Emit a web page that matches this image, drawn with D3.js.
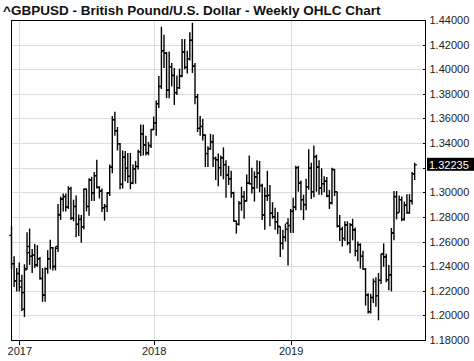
<!DOCTYPE html>
<html>
<head>
<meta charset="utf-8">
<script src="https://cdn.jsdelivr.net/npm/d3@7"></script>
<style>
  html, body { margin: 0; padding: 0; background: #fff; }
  svg { display: block; font-family: "Liberation Sans", Arial, sans-serif; }
  .grid line { stroke: #dcdcdc; stroke-width: 1; shape-rendering: crispEdges; }
  .axis path, .axis line { stroke: #000; shape-rendering: crispEdges; }
  .axis text { fill: #222; font-size: 11px; }
</style>
</head>
<body>
<div id="chart"></div>
<script>
// weekly bars, Monday dates from FIRST_WEEK to LAST_WEEK
const FIRST_WEEK = '2016-12-12';
const LAST_WEEK = '2019-12-09';
const title = '^GBPUSD - British Pound/U.S. Dollar - Weekly OHLC Chart';
const lastPrice = 1.32235;
const yTicks = [1.18, 1.2, 1.22, 1.24, 1.26, 1.28, 1.3, 1.32, 1.34, 1.36, 1.38, 1.4, 1.42, 1.44];
const yearLabels = ['2017', '2018', '2019'];

const opens = [
  1.2650, 1.2420, 1.2280, 1.2340, 1.2230, 1.2050, 1.2380, 1.2510, 1.2480, 1.2490,
  1.2410, 1.2460, 1.2300, 1.2165, 1.2380, 1.2460, 1.2550, 1.2400, 1.2560, 1.2820,
  1.2945, 1.2965, 1.2880, 1.3030, 1.2790, 1.2885, 1.2740, 1.2780, 1.2720, 1.3025,
  1.2885, 1.3100, 1.2995, 1.3135, 1.3040, 1.3010, 1.2875, 1.2885, 1.2995, 1.3205,
  1.3590, 1.3500, 1.3395, 1.3065, 1.3285, 1.3195, 1.3130, 1.3075, 1.3190, 1.3210,
  1.3330, 1.3475, 1.3385, 1.3320, 1.3380, 1.3510, 1.3565, 1.3720, 1.3860, 1.4150,
  1.4130, 1.3830, 1.4020, 1.3950, 1.3810, 1.3850, 1.3945, 1.4140, 1.4015, 1.4085,
  1.4235, 1.4025, 1.3775, 1.3520, 1.3535, 1.3465, 1.3315, 1.3355, 1.3410, 1.3275,
  1.3265, 1.3200, 1.3280, 1.3225, 1.3140, 1.3110, 1.2995, 1.2765, 1.2740, 1.2910,
  1.2965, 1.2930, 1.3075, 1.3070, 1.3035, 1.3125, 1.3155, 1.3055, 1.2815, 1.2970,
  1.2975, 1.2830, 1.2800, 1.2760, 1.2720, 1.2585, 1.2635, 1.2750, 1.2730, 1.2845,
  1.2880, 1.3200, 1.3075, 1.2940, 1.2900, 1.3045, 1.3195, 1.3005, 1.3290, 1.3205,
  1.3035, 1.3070, 1.3090, 1.2970, 1.2915, 1.3185, 1.3005, 1.2725, 1.2700, 1.2625,
  1.2735, 1.2590, 1.2735, 1.2695, 1.2525, 1.2575, 1.2480, 1.2375, 1.2165, 1.2030,
  1.2145, 1.2275, 1.2160, 1.2285, 1.2500, 1.2475, 1.2290, 1.2330, 1.2670, 1.2965,
  1.2835, 1.2940, 1.2780, 1.2895, 1.2835, 1.2930, 1.3150
];
const highs = [
  1.2725, 1.2480, 1.2385, 1.2430, 1.2330, 1.2415, 1.2675, 1.2705, 1.2540, 1.2580,
  1.2570, 1.2475, 1.2385, 1.2390, 1.2530, 1.2615, 1.2555, 1.2560, 1.2905, 1.2965,
  1.2990, 1.2990, 1.3050, 1.3045, 1.2940, 1.2975, 1.2820, 1.2815, 1.3030, 1.3030,
  1.3115, 1.3125, 1.3165, 1.3265, 1.3050, 1.3030, 1.2905, 1.3000, 1.3225, 1.3620,
  1.3655, 1.3530, 1.3400, 1.3340, 1.3335, 1.3320, 1.3320, 1.3225, 1.3255, 1.3345,
  1.3550, 1.3550, 1.3460, 1.3410, 1.3515, 1.3615, 1.3745, 1.3945, 1.4345, 1.4280,
  1.4140, 1.4145, 1.4050, 1.4010, 1.3950, 1.4005, 1.4245, 1.4245, 1.4150, 1.4300,
  1.4377, 1.4050, 1.3800, 1.3620, 1.3595, 1.3470, 1.3375, 1.3475, 1.3470, 1.3290,
  1.3315, 1.3300, 1.3365, 1.3260, 1.3215, 1.3175, 1.3005, 1.2770, 1.2930, 1.3045,
  1.3010, 1.3145, 1.3300, 1.3200, 1.3170, 1.3260, 1.3255, 1.3070, 1.3040, 1.3175,
  1.3060, 1.2920, 1.2875, 1.2840, 1.2725, 1.2695, 1.2745, 1.2790, 1.2865, 1.2955,
  1.3215, 1.3215, 1.3095, 1.2980, 1.3110, 1.3350, 1.3240, 1.3380, 1.3305, 1.3260,
  1.3195, 1.3130, 1.3125, 1.3020, 1.3200, 1.3190, 1.3005, 1.2815, 1.2720, 1.2765,
  1.2765, 1.2750, 1.2785, 1.2715, 1.2600, 1.2585, 1.2525, 1.2385, 1.2180, 1.2175,
  1.2300, 1.2310, 1.2345, 1.2500, 1.2585, 1.2500, 1.2410, 1.2710, 1.3010, 1.3010,
  1.2975, 1.2965, 1.2925, 1.2985, 1.2985, 1.3165, 1.3240
];
const lows = [
  1.2375, 1.2230, 1.2195, 1.2195, 1.2035, 1.1986, 1.2370, 1.2410, 1.2345, 1.2385,
  1.2395, 1.2290, 1.2110, 1.2110, 1.2340, 1.2375, 1.2365, 1.2365, 1.2515, 1.2775,
  1.2845, 1.2845, 1.2865, 1.2775, 1.2765, 1.2635, 1.2645, 1.2590, 1.2700, 1.2845,
  1.2810, 1.2930, 1.2930, 1.3030, 1.2950, 1.2840, 1.2770, 1.2840, 1.2970, 1.3155,
  1.3460, 1.3340, 1.3025, 1.3030, 1.3090, 1.3075, 1.3025, 1.3065, 1.3070, 1.3185,
  1.3295, 1.3300, 1.3300, 1.3300, 1.3360, 1.3505, 1.3460, 1.3685, 1.3840, 1.4010,
  1.3765, 1.3765, 1.3860, 1.3710, 1.3790, 1.3840, 1.3935, 1.4000, 1.3965, 1.4070,
  1.3970, 1.3715, 1.3490, 1.3460, 1.3420, 1.3205, 1.3205, 1.3345, 1.3205, 1.3100,
  1.3050, 1.3130, 1.3105, 1.2955, 1.3060, 1.2955, 1.2760, 1.2665, 1.2730, 1.2850,
  1.2785, 1.2925, 1.3065, 1.2990, 1.2925, 1.3030, 1.3000, 1.2775, 1.2695, 1.2930,
  1.2725, 1.2785, 1.2695, 1.2660, 1.2475, 1.2535, 1.2600, 1.2405, 1.2670, 1.2670,
  1.2855, 1.3005, 1.2855, 1.2775, 1.2855, 1.3020, 1.2945, 1.2960, 1.3005, 1.2980,
  1.2980, 1.3000, 1.2960, 1.2865, 1.2900, 1.2970, 1.2715, 1.2605, 1.2560, 1.2605,
  1.2570, 1.2505, 1.2610, 1.2480, 1.2440, 1.2380, 1.2370, 1.2080, 1.2015, 1.2015,
  1.2100, 1.2070, 1.1960, 1.2255, 1.2395, 1.2270, 1.2205, 1.2195, 1.2610, 1.2780,
  1.2835, 1.2765, 1.2770, 1.2825, 1.2825, 1.2900, 1.3100
];
const closes = [
  1.2420, 1.2280, 1.2340, 1.2280, 1.2185, 1.2370, 1.2560, 1.2480, 1.2490, 1.2410,
  1.2460, 1.2300, 1.2165, 1.2380, 1.2460, 1.2550, 1.2395, 1.2545, 1.2815, 1.2945,
  1.2965, 1.2880, 1.3030, 1.2790, 1.2885, 1.2740, 1.2780, 1.2720, 1.3025, 1.2885,
  1.3100, 1.2995, 1.3135, 1.3040, 1.3010, 1.2875, 1.2885, 1.2995, 1.3205, 1.3590,
  1.3500, 1.3395, 1.3065, 1.3285, 1.3195, 1.3130, 1.3075, 1.3190, 1.3210, 1.3330,
  1.3475, 1.3385, 1.3320, 1.3380, 1.3510, 1.3565, 1.3720, 1.3860, 1.4150, 1.4130,
  1.3830, 1.4020, 1.3950, 1.3810, 1.3850, 1.3945, 1.4140, 1.4015, 1.4085, 1.4235,
  1.4025, 1.3775, 1.3520, 1.3535, 1.3465, 1.3315, 1.3355, 1.3410, 1.3275, 1.3265,
  1.3200, 1.3280, 1.3225, 1.3140, 1.3110, 1.2995, 1.2765, 1.2740, 1.2910, 1.2965,
  1.2930, 1.3075, 1.3070, 1.3035, 1.3125, 1.3155, 1.3055, 1.2815, 1.2970, 1.2975,
  1.2830, 1.2800, 1.2760, 1.2725, 1.2585, 1.2635, 1.2700, 1.2730, 1.2845, 1.2880,
  1.3200, 1.3075, 1.2940, 1.2900, 1.3045, 1.3195, 1.3005, 1.3290, 1.3205, 1.3035,
  1.3070, 1.3090, 1.2970, 1.2915, 1.3185, 1.3005, 1.2725, 1.2700, 1.2625, 1.2735,
  1.2590, 1.2735, 1.2695, 1.2525, 1.2575, 1.2480, 1.2375, 1.2165, 1.2030, 1.2145,
  1.2275, 1.2160, 1.2285, 1.2500, 1.2475, 1.2290, 1.2330, 1.2670, 1.2965, 1.2835,
  1.2940, 1.2780, 1.2895, 1.2835, 1.2930, 1.3150, 1.32235
];

const W = 474, H = 361;
const plot = { left: 11, right: 425, top: 20, bottom: 340 };

const parse = d3.timeParse('%Y-%m-%d');
const weeks = d3.timeMonday.range(parse(FIRST_WEEK), d3.timeDay.offset(parse(LAST_WEEK), 1));
const bars = weeks.map((d, i) => ({
  date: d, i, o: opens[i], h: highs[i], l: lows[i], c: closes[i],
}));

// bars sit on a week index; the last slot leaves room before the price axis
const x = d3.scaleLinear().domain([-0.2, 160]).range([plot.left, plot.right]);
const y = d3.scaleLinear().domain([1.18, 1.44]).range([plot.bottom, plot.top]);

// first bar of each year carries the year tick
const yearStarts = yearLabels.map((yr) => bars.find((b) => b.date.getFullYear() === +yr).i);

const svg = d3.select('#chart').append('svg').attr('width', W).attr('height', H);

svg.append('text')
  .attr('x', 3).attr('y', 14.5)
  .attr('font-size', 13.5).attr('font-weight', 'bold').attr('fill', '#111')
  .text(title);

const grid = svg.append('g').attr('class', 'grid');
grid.selectAll('line.h').data(yTicks).join('line').attr('class', 'h')
  .attr('x1', plot.left).attr('x2', plot.right)
  .attr('y1', (d) => Math.round(y(d)) + 0.5).attr('y2', (d) => Math.round(y(d)) + 0.5);
grid.selectAll('line.v').data(yearStarts).join('line').attr('class', 'v')
  .attr('x1', (d) => Math.round(x(d)) + 0.5).attr('x2', (d) => Math.round(x(d)) + 0.5)
  .attr('y1', plot.top).attr('y2', plot.bottom);

// frame
svg.append('rect')
  .attr('x', plot.left + 0.5).attr('y', plot.top + 0.5)
  .attr('width', plot.right - plot.left).attr('height', plot.bottom - plot.top)
  .attr('fill', 'none').attr('stroke', '#000').attr('shape-rendering', 'crispEdges');

// ohlc bars
const g = svg.append('g').attr('stroke', '#000').attr('stroke-width', 1.4);
bars.forEach((b) => {
  const cx = x(b.i);
  g.append('line').attr('x1', cx).attr('x2', cx).attr('y1', y(b.h)).attr('y2', y(b.l));
  g.append('line').attr('x1', cx - 2.2).attr('x2', cx).attr('y1', y(b.o)).attr('y2', y(b.o));
  g.append('line').attr('x1', cx).attr('x2', cx + 2.2).attr('y1', y(b.c)).attr('y2', y(b.c));
});

// the last-price flag covers the label of the tick it sits on
const ly = y(lastPrice);
const fmt = d3.format('.5f');
svg.append('g').attr('class', 'axis')
  .attr('transform', `translate(${plot.right + 0.5},0)`)
  .call(d3.axisRight(y).tickValues(yTicks).tickSize(-3).tickPadding(4)
    .tickFormat((d) => (Math.abs(y(d) - ly) < 10 ? '' : fmt(d))))
  .call((a) => a.select('.domain').remove());

svg.append('g').attr('class', 'axis')
  .attr('transform', `translate(0,${plot.bottom + 0.5})`)
  .call(d3.axisBottom(x).tickValues(yearStarts).tickFormat((d, k) => yearLabels[k]).tickSize(4).tickPadding(3))
  .call((a) => a.select('.domain').remove());

svg.append('rect').attr('x', 427).attr('y', ly - 7).attr('width', W - 427).attr('height', 13).attr('fill', '#000');
svg.append('text').attr('x', 429).attr('y', ly).attr('dy', '0.35em')
  .attr('font-size', 11).attr('fill', '#fff').text(fmt(lastPrice));
</script>
</body>
</html>
